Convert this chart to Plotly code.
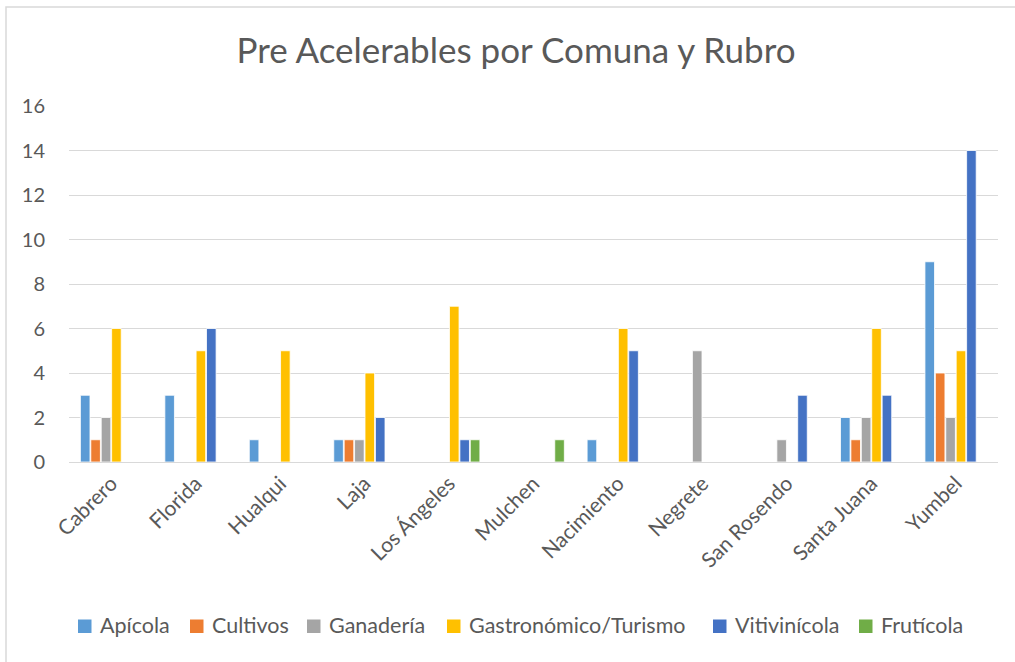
import plotly.graph_objects as go

comunas = ["Cabrero", "Florida", "Hualqui", "Laja", "Los Ángeles", "Mulchen",
           "Nacimiento", "Negrete", "San Rosendo", "Santa Juana", "Yumbel"]
apicola = [3, 3, 1, 1, 0, 0, 1, 0, 0, 2, 9]
cultivos = [1, 0, 0, 1, 0, 0, 0, 0, 0, 1, 4]
ganaderia = [2, 0, 0, 1, 0, 0, 0, 5, 1, 2, 2]
gastronomico = [6, 5, 5, 4, 7, 0, 6, 0, 0, 6, 5]
vitivinicola = [0, 6, 0, 2, 1, 0, 5, 0, 3, 3, 14]
fruticola = [0, 0, 0, 0, 1, 1, 0, 0, 0, 0, 0]
y_ticks = [0, 2, 4, 6, 8, 10, 12, 14, 16]

series = [
    ("Apícola", apicola, "#5B9BD5"),
    ("Cultivos", cultivos, "#ED7D31"),
    ("Ganadería", ganaderia, "#A5A5A5"),
    ("Gastronómico/Turismo", gastronomico, "#FFC000"),
    ("Vitivinícola", vitivinicola, "#4472C4"),
    ("Frutícola", fruticola, "#70AD47"),
]
# legend symbol left edges (px) in the page
legend_x = [78, 190, 307, 447, 713, 859]

FONT = "Lato"
GRAY = "#595959"

fig = go.Figure()
for name, vals, color in series:
    fig.add_trace(go.Bar(
        x=comunas, y=vals, name=name, showlegend=False,
        marker=dict(color=color, line=dict(color="white", width=0.8)),
    ))

W, H = 1015, 662
ml, mr, mt, mb = 69, 17, 106, 200
pw = W - ml - mr
ph = H - mt - mb


def px_x(x):
    return (x - ml) / pw


def px_y(y):
    return ((mt + ph) - y) / ph


fig.update_layout(
    width=W, height=H,
    margin=dict(l=ml, r=mr, t=mt, b=mb, pad=0),
    paper_bgcolor="white", plot_bgcolor="white",
    barmode="group", bargap=0.26, bargroupgap=0.08,
    font=dict(family=FONT, color=GRAY),
    title=dict(text="Pre Acelerables por Comuna y Rubro",
               x=516 / W, xanchor="center",
               y=1 - 51 / H, yanchor="middle",
               font=dict(size=35, family=FONT, color=GRAY)),
    showlegend=False,
    xaxis=dict(tickangle=-45, tickfont=dict(size=21, family=FONT, color=GRAY),
               showline=True, linecolor="#D9D9D9", linewidth=1,
               ticks="", showgrid=False, fixedrange=True),
    yaxis=dict(range=[0, 16], tickvals=y_ticks,
               tickfont=dict(size=20, family=FONT, color=GRAY),
               showgrid=True, gridcolor="#D9D9D9", gridwidth=1,
               zeroline=False, showline=False, ticks="outside",
               ticklen=19, tickcolor="white", fixedrange=True),
)

# manual legend (Excel-like spacing)
for (name, vals, color), lx in zip(series, legend_x):
    fig.add_shape(type="rect", xref="paper", yref="paper",
                  x0=px_x(lx), x1=px_x(lx + 13.5),
                  y0=px_y(633), y1=px_y(619.5),
                  line=dict(width=0), fillcolor=color)
    fig.add_annotation(text=name, xref="paper", yref="paper",
                       x=px_x(lx + 19.5), y=px_y(624.5), xanchor="left",
                       yanchor="middle", showarrow=False,
                       font=dict(size=21.5, family=FONT, color=GRAY))

# chart outer border (Excel chart area)
fig.add_shape(type="rect", xref="paper", yref="paper",
              x0=px_x(6), x1=px_x(1030),
              y0=px_y(680), y1=px_y(7),
              line=dict(color="#D9D9D9", width=1.5), fillcolor="rgba(0,0,0,0)",
              layer="below")

fig.write_html("out.html")
